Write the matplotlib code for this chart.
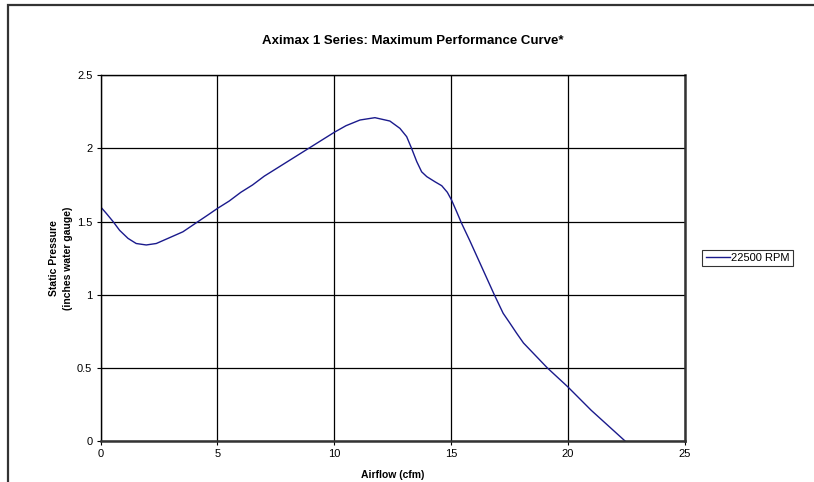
import matplotlib
matplotlib.use("Agg")
import matplotlib.pyplot as plt
from matplotlib.patches import Rectangle

plt.rcParams['font.family'] = ['Liberation Sans', 'DejaVu Sans']

# values (airflow cfm, static pressure in. wg)
airflow = [0.0, 0.24, 0.53, 0.81, 1.17, 1.52, 1.95, 2.38, 2.88, 3.52, 4.17,
           4.59, 5.0, 5.5, 6.0, 6.5, 7.0, 7.5, 8.0, 8.5, 9.0, 9.5, 10.0,
           10.5, 11.1, 11.74, 12.38, 12.81, 13.1, 13.31, 13.53, 13.74, 13.96,
           14.31, 14.6, 14.84, 15.02, 15.24, 15.45, 15.8, 16.24, 16.85, 17.23,
           17.5, 17.81, 18.1, 19.12, 20.0, 21.0, 22.45]
pressure = [1.60, 1.556, 1.50, 1.44, 1.385, 1.35, 1.34, 1.35, 1.385, 1.43,
            1.50, 1.545, 1.59, 1.64, 1.70, 1.75, 1.81, 1.86, 1.91, 1.96, 2.01,
            2.06, 2.11, 2.155, 2.194, 2.21, 2.187, 2.137, 2.08, 2.00, 1.91,
            1.84, 1.807, 1.772, 1.745, 1.70, 1.647, 1.567, 1.488, 1.37, 1.215,
            1.00, 0.873, 0.81, 0.736, 0.67, 0.50, 0.37, 0.21, 0.0]
series_label = "22500 RPM"
x_ticks = [0, 5, 10, 15, 20, 25]
y_ticks = [0, 0.5, 1, 1.5, 2, 2.5]
y_tick_labels = ["0", "0.5", "1", "1.5", "2", "2.5"]

fig = plt.figure(figsize=(8.14, 4.82), dpi=100)
ax = fig.add_axes([0.1237, 0.085, 0.7174, 0.7589])

ax.plot(airflow, pressure, color='#1a1a8c', lw=1.0, label=series_label)

ax.set_xlim(0, 25)
ax.set_ylim(0, 2.5)
ax.set_xticks(x_ticks)
ax.set_yticks(y_ticks)
ax.set_yticklabels(y_tick_labels)
ax.tick_params(labelsize=8, length=3, width=0.8, pad=3, direction='out')
ax.grid(True, color='black', lw=0.9)
ax.set_axisbelow(True)

for side in ['top', 'left']:
    ax.spines[side].set_linewidth(1.0)
    ax.spines[side].set_color('black')
for side in ['bottom', 'right']:
    ax.spines[side].set_linewidth(1.8)
    ax.spines[side].set_color('#333333')

ax.set_ylabel("Static Pressure\n(inches water gauge)", fontsize=7.5,
              fontweight='bold', labelpad=3, linespacing=1.5)
ax.set_xlabel("Airflow (cfm)", fontsize=7.5, fontweight='bold', labelpad=8)

fig.text(0.507, 0.915, "Aximax 1 Series: Maximum Performance Curve*",
         ha='center', va='center', fontsize=9.5, fontweight='bold')

leg = ax.legend(loc='center left', bbox_to_anchor=(1.03, 0.5), fontsize=8,
                frameon=True, fancybox=False, edgecolor='black',
                handlelength=2.2, handletextpad=0.1, borderpad=0.3,
                borderaxespad=0)
leg.get_frame().set_linewidth(0.8)

# chart area border (partly cropped in the reference)
fig.patches.append(Rectangle((7.5 / 814, -0.2), 1.2, 1.2 - 4.5 / 482,
                             transform=fig.transFigure, fill=False,
                             edgecolor='#333333', lw=1.6))

fig.savefig("out.png", dpi=100)
